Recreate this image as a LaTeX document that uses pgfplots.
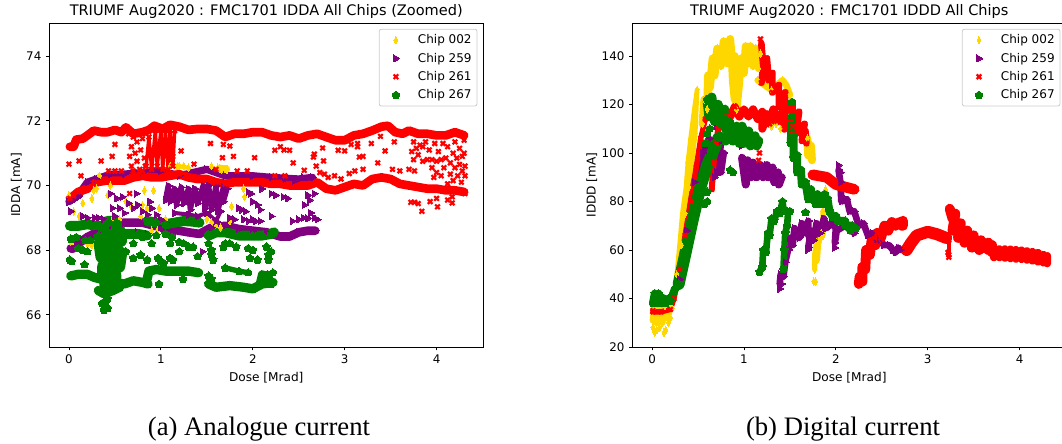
\documentclass[border=0pt]{standalone}
\usepackage{fontspec}
\setmainfont{Liberation Serif}
\newfontfamily\dejavu{DejaVu Sans}
\usepackage{pgfplots}
\pgfplotsset{compat=1.18}
\usetikzlibrary{plotmarks}
\definecolor{chipgold}{HTML}{FFD700}
\definecolor{chippurple}{HTML}{800080}
\definecolor{chipred}{HTML}{FF0000}
\definecolor{chipgreen}{HTML}{008000}
\definecolor{legframe}{HTML}{CCCCCC}

% matplotlib "X" marker
\pgfdeclareplotmark{Xfill}{%
  \pgfpathmoveto{\pgfqpoint{-.5\pgfplotmarksize}{-\pgfplotmarksize}}
  \pgfpathlineto{\pgfqpoint{0pt}{-.5\pgfplotmarksize}}
  \pgfpathlineto{\pgfqpoint{.5\pgfplotmarksize}{-\pgfplotmarksize}}
  \pgfpathlineto{\pgfqpoint{\pgfplotmarksize}{-.5\pgfplotmarksize}}
  \pgfpathlineto{\pgfqpoint{.5\pgfplotmarksize}{0pt}}
  \pgfpathlineto{\pgfqpoint{\pgfplotmarksize}{.5\pgfplotmarksize}}
  \pgfpathlineto{\pgfqpoint{.5\pgfplotmarksize}{\pgfplotmarksize}}
  \pgfpathlineto{\pgfqpoint{0pt}{.5\pgfplotmarksize}}
  \pgfpathlineto{\pgfqpoint{-.5\pgfplotmarksize}{\pgfplotmarksize}}
  \pgfpathlineto{\pgfqpoint{-\pgfplotmarksize}{.5\pgfplotmarksize}}
  \pgfpathlineto{\pgfqpoint{-.5\pgfplotmarksize}{0pt}}
  \pgfpathlineto{\pgfqpoint{-\pgfplotmarksize}{-.5\pgfplotmarksize}}
  \pgfpathclose\pgfusepathqfill}

\pgfplotsset{
  chip/.style={
    scale only axis, width=325.1pt, height=243pt, anchor=south west,
    axis line style={line width=.6pt}, tick style={line width=.6pt, black},
    tick align=outside, major tick length=2.6pt,
    font=\dejavu\fontsize{8.9}{10}\selectfont,
    /pgf/number format/assume math mode=true,
    xmin=-.212, xmax=4.505, xtick={0,1,2,3,4}, xlabel={Dose [Mrad]},
    xlabel style={yshift=.5pt, font=\dejavu\fontsize{9.1}{10}\selectfont},
    ylabel style={yshift=-3.5pt, font=\dejavu\fontsize{9.1}{10}\selectfont},
    title style={font=\dejavu\fontsize{10.9}{12}\selectfont, yshift=-6.5pt},
    ytick pos=left, xtick pos=bottom,
    legend cell align=left,
    legend style={at={(.987,.982)}, anchor=north east, draw=legframe, rounded corners=1.5pt,
      line width=.6pt, font=\dejavu\fontsize{9}{10}\selectfont, row sep=1.4pt,
      inner xsep=2pt, inner ysep=2pt},
  },
  scat/.style={only marks, legend image code/.code={
    \draw[draw=none, fill=none] (0pt,-2pt) rectangle (25pt,2pt);
    \draw[##1] plot coordinates {(10.5pt,0pt)};}},
  gold/.style={chipgold, mark=diamond*, mark size=2.8pt, mark options={solid, fill=chipgold, line width=0pt, xscale=.7}},
  purple/.style={chippurple, mark=triangle*, mark size=3pt, mark options={solid, fill=chippurple, line width=0pt, rotate=-90}},
  red/.style={chipred, mark=Xfill, mark size=2.3pt, mark options={solid, fill=chipred, line width=0pt}},
  green/.style={chipgreen, mark=pentagon*, mark size=3pt, mark options={solid, fill=chipgreen, line width=0pt}},
  band/.style={forget plot, line width=#1, line join=round, line cap=round},
  band/.default=4pt,
}

\begin{document}
\begin{tikzpicture}
\path[use as bounding box] (0,0) rectangle (796.5pt,332.25pt);

\begin{axis}[chip, at={(37.125pt,72pt)}, ymin=65, ymax=75.03, ytick={66,68,70,72,74},
    ylabel={IDDA [mA]}, title={TRIUMF Aug2020 : FMC1701 IDDA All Chips (Zoomed)},
    legend entries={Chip 002,Chip 259,Chip 261,Chip 267}]
% chip 002
\addplot[gold, scat] coordinates {(0,69.7)(.03,68.2)(.05,69.2)(.11,69.05)(.15,69.45)(.2,68.2)(.25,68.15)(.25,69.6)(.27,69.85)(.3,69.9)(.33,70.3)(.42,69.7)(.48,69)(.55,68.95)(.62,69.5)(.68,69.35)(.78,69.05)(.8,69.4)(.82,69.85)(.85,69.3)(.92,69.85)(.98,69.3)(1.05,68.95)(.9,68.6)(.96,68.6)(1.1,70.6)(1.2,70.6)(1.25,70.6)(1.3,70.55)(1.55,70.6)(1.62,70.55)(1.66,70.5)(1.7,70.5)(1.72,70.5)(1.5,68.95)(1.55,68.85)(1.6,68.75)(1.65,68.7)(1.75,68.9)(1.77,69.35)(1.9,69.9)(1.91,69.65)(.45,70)};
\addplot[gold, band=6pt] coordinates {(1.64,70.52)(1.71,70.5)};
\addplot[gold, band=3pt] coordinates {(1.18,70.6)(1.3,70.55)};
% chip 259
\addplot[purple, scat] coordinates {(.02,69.2)(.05,69.55)(.1,69.65)(.15,69.05)(.2,69)(.28,69)(.32,69)(.38,68.95)(.45,69.75)(.47,69.3)(.5,69.05)(.52,69.6)(.55,69.3)(.58,69.65)(.6,69.15)(.65,69.45)(.7,69.3)(.73,69.75)(.75,69.4)(.8,69.2)(.85,69.1)(.88,69.5)(.9,69.3)(.95,69.1)(1,68.95)(1.05,68.85)(.75,68.55)(.85,68.5)(1.1,68.5)(1.15,68.55)(1.22,68.6)(1.45,67.95)(1.75,69)(1.8,68.95)(1.85,69.3)(1.88,69.25)(1.92,69.2)(1.95,69.8)(1.98,69.75)(2,69.5)(2.05,69.4)(2.08,69.25)(2,68.95)(1.9,68.95)(1.95,68.9)(2.03,68.9)(2.08,68.9)(2.2,69.05)(2.2,69.75)(2.1,69.9)(2.25,69.7)(2.33,69.65)(2.38,69.6)(2.43,68.9)(2.5,68.95)(2.55,69)(2.6,68.98)(2.63,69.15)(2.67,69)(2.7,68.95)(2.56,69.4)(2.6,69.7)(2.62,69.55)(2.67,69.75)(2.35,70.2)(2.45,70.15)(2.55,70.25)(2.65,70.25)};
\addplot[purple, band=5.5pt] coordinates {(0,69.5)(.1,69.7)(.2,70.1)(.3,70.2)(.45,70.35)(.6,70.35)(.8,70.4)(1,70.45)(1.2,70.3)(1.5,70.5)(1.7,70.3)(2,70.3)(2.2,70.25)(2.5,70.2)(2.65,70.25)};
\addplot[purple, band=6.5pt] coordinates {(.02,68.05)(.05,68.05)(.1,68.2)(.2,68.4)(.3,68.55)(.45,68.75)(.6,68.85)(.8,68.85)(1,68.7)(1.2,68.6)(1.3,68.55)(1.42,68.5)(1.55,68.7)(1.7,68.75)(1.85,68.65)(2,68.6)(2.15,68.55)(2.3,68.42)(2.4,68.42)(2.5,68.55)(2.6,68.6)(2.68,68.6)};
\addplot[purple, band=4pt] coordinates {(1.05,69.55)(1.08,70)(1.1,69.5)(1.15,69.9)(1.17,69.4)(1.22,69.95)(1.25,69.45)(1.3,69.9)(1.32,69.25)(1.37,69.9)(1.4,69.45)(1.46,70)(1.48,69.3)(1.52,70)(1.55,69.25)(1.6,70)(1.62,69.2)(1.68,69.95)(1.68,69.5)(1.72,69.9)};
\addplot[purple, band=3pt] coordinates {(1.15,69.15)(1.3,69.1)(1.4,69.05)(1.5,69.15)(1.6,68.9)(1.65,69.2)};
% chip 261
\addplot[red, scat] coordinates {(0,70.66)(.11,70.76)(.13,70.3)(.35,70.76)(.47,70.9)(.5,71.27)(.43,70.45)(.5,70.45)(.57,70.45)(.66,69.75)(1.22,71.07)(1.13,70.9)(1.36,70.66)(1.54,71.3)(1.68,71.27)(1.75,71.22)(1.67,70.86)(1.79,70.9)(2.02,70.86)(1.6,70.5)(1.83,70.45)(1.94,70.45)(2.24,71.09)(2.3,71.2)(2.34,71.1)(2.4,71.09)(2.44,70.7)(2.24,70.3)(2.35,70.3)(2.56,70.47)(2.66,70.88)(2.67,70.97)(2.69,70.6)(2.76,71.16)(2.77,70.76)(2.73,70.4)(2.78,70.35)(2.82,70.25)(2.89,70.3)(2.96,70.2)(2.93,71.09)(3,71.07)(3.05,70.37)(3.11,70.45)(3.2,70.5)(3.07,71.27)(3.14,71.3)(3.14,71.2)(3.16,70.88)(3.2,70.9)(3.29,71.3)(3.36,70.7)(3.39,71.52)(3.44,71.07)(3.54,71.35)(3.52,70.5)(3.6,70.45)(3.72,69.48)(3.76,69.48)(3.8,69.44)(3.84,69.2)(3.93,69.5)(4,69.6)(4.01,69.34)(4.12,69.55)(4.17,69.46)(4.17,69.65)(.65,71.6)(.68,71.2)(.66,70.9)(.68,70.6)(.7,71.5)(.72,71)(.74,70.75)(.74,71.35)(.77,70.5)(.78,71.1)(.8,71.45)(.82,70.85)(.83,70.6)(.7,70.45)(.8,70.45)(3.73,71.05)(3.75,70.8)(3.75,71.35)(3.78,71.15)(3.8,70.95)(3.82,71.25)(3.7,70.5)(3.76,70.45)(3.85,70.75)(3.85,71.2)(3.88,71.35)(3.9,70.8)(3.92,71.1)(3.95,70.55)(3.95,70.8)(3.97,70.25)(3.98,71.3)(4,70.4)(4,70.75)(4.02,71.05)(4.05,70.3)(4.05,70.8)(4.07,71.3)(4.08,70.55)(4.1,70.85)(4.12,71.2)(4.12,70.05)(4.15,70.35)(4.15,70.7)(4.18,71)(4.18,70.15)(4.2,70.55)(4.2,71.35)(4.22,70.85)(4.23,70.3)(4.25,71.15)(4.25,70.65)(4.27,70.1)(4.28,70.45)(4.28,70.9)(4.3,71.4)(4.3,71)(4.31,70.6)(4.31,70.3)(4.31,69.75)};
\addplot[red, band=6.5pt] coordinates {(.01,71.2)(.05,71.2)(.08,71.42)(.15,71.45)(.2,71.55)(.27,71.7)(.35,71.65)(.42,71.65)(.5,71.72)(.57,71.65)(.62,71.8)(.7,71.6)(.8,71.65)(.87,71.72)(.93,71.85)(1.02,71.75)(1.1,71.88)(1.2,71.82)(1.3,71.72)(1.4,71.75)(1.5,71.75)(1.6,71.7)(1.7,71.5)(1.8,71.6)(1.9,71.6)(2,71.65)(2.1,71.65)(2.2,71.55)(2.3,71.5)(2.4,71.55)(2.5,71.45)(2.6,71.55)(2.7,71.6)(2.8,71.5)(2.9,71.4)(3,71.4)(3.1,71.55)(3.2,71.6)(3.3,71.7)(3.4,71.82)(3.47,71.85)(3.55,71.65)(3.63,71.6)(3.7,71.7)(3.8,71.6)(3.9,71.6)(4,71.55)(4.1,71.55)(4.2,71.65)(4.3,71.55)};
\addplot[red, band=6.5pt] coordinates {(.01,69.6)(.05,69.68)(.1,69.8)(.2,69.9)(.3,70.1)(.4,70.15)(.5,70.15)(.6,70.15)(.7,70.25)(.8,70.3)(.9,70.25)(1,70.25)(1.1,70.3)(1.2,70.35)(1.3,70.25)(1.4,70.2)(1.5,70.2)(1.6,70.1)(1.7,70.05)(1.8,70.1)(1.9,70.1)(2,70.1)(2.1,70.1)(2.2,70.05)(2.3,70.05)(2.4,70)(2.5,70)(2.6,70)(2.7,70.1)(2.8,69.9)(2.9,69.85)(3,69.95)(3.1,70.05)(3.2,70)(3.3,70.2)(3.4,70.25)(3.5,70.2)(3.6,70.05)(3.7,70)(3.8,69.95)(3.9,69.9)(4,69.9)(4.1,69.85)(4.2,69.85)(4.3,69.8)};
\addplot[red, band=2.6pt] coordinates {(.84,70.6)(.87,71.5)(.9,70.5)(.94,71.7)(.96,70.6)(1,71.7)(1.02,70.5)(1.05,71.7)(1.08,70.5)(1.1,71.7)(1.13,70.6)(1.15,71.7)};
% chip 267
\addplot[green, scat] coordinates {(.02,68.35)(.08,68.4)(.1,68.05)(.15,68)(.2,67.95)(.18,68.3)(.23,68.3)(.01,67.7)(.03,67.65)(.17,67.55)(.62,67.95)(.7,67.75)(.78,67.85)(.85,67.7)(.97,67.75)(1,67.65)(1.03,67.6)(1.1,67.75)(1.13,67.7)(1.2,67.95)(1.25,68.2)(1.3,68.1)(1.35,68.1)(1.4,67.8)(1.05,68.5)(1.12,68.4)(.95,68.45)(.85,68.45)(.9,68.2)(1.1,68.2)(1.3,68.1)(.98,66.95)(1.24,67.1)(1.52,68.2)(1.55,68)(1.55,67.85)(1.57,67.7)(1.52,67.2)(1.55,67.1)(1.68,68.1)(1.7,68.2)(1.75,68.2)(1.82,68.1)(1.95,68.05)(2,68)(1.97,67.75)(2.05,67.7)(2.15,68.1)(2.17,67.85)(2.2,67.95)(2.17,67.7)(2.22,67.3)(2.16,67.25)(.7,68.2)(.8,68.4)(1.2,68.25)(.36,66.35)(.38,66.15)(.42,66.2)(.4,66.4)(.42,66.5)};
\addplot[green, band=7.5pt] coordinates {(.01,68.75)(.1,68.75)(.2,68.8)(.3,68.75)(.4,68.75)(.5,68.75)};
\addplot[green, band=7.5pt] coordinates {(.85,68.9)(.95,68.85)(1.05,68.8)(1.15,68.85)(1.25,68.9)(1.35,68.88)(1.42,68.85)};
\addplot[green, band=7.5pt] coordinates {(.32,68.45)(.45,68.45)(.6,68.5)(.75,68.5)(.85,68.45)};
\addplot[green, band=7.5pt] coordinates {(1.52,68.45)(1.6,68.55)(1.7,68.55)(1.85,68.45)(2,68.45)(2.1,68.45)(2.2,68.5)(2.23,68.55)};
\addplot[green, band=7pt] coordinates {(.02,67.2)(.1,67.25)(.2,67.25)(.28,67.15)(.35,67.1)};
\addplot[green, band=7pt] coordinates {(.32,66.75)(.38,66.65)(.48,66.75)(.55,66.85)};
\addplot[green, band=7pt] coordinates {(.52,67)(.6,66.95)(.7,67.05)(.8,67)(.86,66.95)};
\addplot[green, band=7pt] coordinates {(.85,67.1)(.87,67.35)(.95,67.4)(1.05,67.35)(1.2,67.35)(1.3,67.35)(1.41,67.3)};
\addplot[green, band=7pt] coordinates {(1.52,66.95)(1.6,66.85)(1.75,66.9)(1.9,66.85)(2,66.8)(2.1,66.95)(2.22,67)};
\addplot[green, band=4pt] coordinates {(1.7,67.45)(1.85,67.35)(1.95,67.3)};
\addplot[green, band=6pt] coordinates {(2.08,67)(2.1,67.25)(2.17,67.2)(2.2,66.95)};
\addplot[green, band=10pt] coordinates {(.34,68.4)(.42,68.85)(.52,68.85)(.56,68.3)(.34,68.2)(.36,67.8)(.56,67.9)(.54,67.5)(.38,67.5)(.38,67.2)(.5,67.2)(.4,66.95)(.47,66.9)};
\end{axis}

\begin{axis}[chip, at={(474.4pt,72pt)}, ymin=20, ymax=153.6, ytick={20,40,60,80,100,120,140},
    ylabel={IDDD [mA]}, title={TRIUMF Aug2020 : FMC1701 IDDD All Chips},
    legend entries={Chip 002,Chip 259,Chip 261,Chip 267}]
% chip 002
\addplot[gold, scat] coordinates {(.01,28)(.03,26)(.05,27)(.08,28)(.13,26)(.15,27)(.18,30)(.2,32)(.22,36)(1.3,111)(1.35,112)(1.4,110)(1.76,47)(1.78,47)(1.89,85)};
\addplot[gold, band=5pt] coordinates {(.01,31)(.03,37)(.05,30)(.08,37)(.11,30)(.14,37)(.17,32)(.2,37)};
\addplot[gold, band=3.5pt] coordinates {(.27,50)(.3,62)(.33,75)(.37,86)(.39,96)(.42,106)(.45,115)(.49,126)(.47,108)(.44,98)(.4,86)(.36,75)(.32,62)};
\addplot[gold, band=6pt] coordinates {(.55,112)(.57,122)(.6,118)(.61,132)(.63,127)(.66,139)(.68,132)(.71,143)(.75,136)(.78,146)(.82,137)(.85,147)(.87,138)(.88,130)(.9,122)(.9,140)};
\addplot[gold, band=6pt] coordinates {(.92,118)(.95,130)(.97,139)(1,133)(1.02,144)(1.05,137)(1.07,144)(1.1,136)(1.13,143)(1.16,135)(1.18,141)};
\addplot[gold, band=5pt] coordinates {(1.15,130)(1.3,126)(1.42,130)(1.46,128)(1.5,124)};
\addplot[gold, band=6pt] coordinates {(1.69,106)(1.7,99)(1.73,103)(1.74,97)};
\addplot[gold, band=4pt] coordinates {(1.77,52)(1.77,58)(1.79,63)(1.8,56)(1.81,62)(1.84,67)(1.86,66)(1.86,76)};
% chip 259
\addplot[purple, scat] coordinates {(.7,111)(.68,90)(.72,92)(1.39,44)(1.41,46)(1.69,60)(1.99,61)(2.03,95)(2.05,92)(.97,103)};
\addplot[purple, band=5pt] coordinates {(.3,48)(.38,68)(.46,88)(.55,100)(.62,106)};
\addplot[purple, band=5pt] coordinates {(.7,92)(.75,105)(.73,95)(.78,100)(.75,92)};
\addplot[purple, band=6pt] coordinates {(.98,98)(1.02,87)(1.04,97)(1.08,90)(1.1,96)(1.14,90)(1.18,95)(1.21,90)(1.25,95)(1.27,90)(1.31,94)(1.33,88)(1.37,92)(1.38,87)(1.41,90)};
\addplot[purple, band=5pt] coordinates {(1.39,46)(1.4,50)(1.43,49)(1.45,55)(1.48,60)(1.5,65)(1.53,62)(1.55,69)(1.6,65)(1.63,71)(1.66,67)(1.7,72)(1.7,66)};
\addplot[purple, band=5pt] coordinates {(1.7,61)(1.73,68)(1.76,64)(1.79,71)(1.83,67)(1.87,73)(1.9,69)(1.95,71)(2,69)(1.99,63)(2.01,68)(2.1,70)(2.2,67)};
\addplot[purple, band=5pt] coordinates {(2.03,93)(2.05,88)(2.06,80)(2.12,81)(2.15,76)(2.2,76)(2.25,70)(2.3,71)(2.35,66)(2.4,67)(2.43,63)(2.48,65)(2.52,62)(2.58,62)(2.62,60)(2.65,59)(2.68,61)(2.7,60)};
% chip 261
\addplot[red, scat] coordinates {(.01,35)(3.23,57)(3.22,59)(1.16,97)(1.17,100)(1.18,147)(1.19,144)};
\addplot[red, band=4pt] coordinates {(.01,34.5)(.1,34.5)(.2,35.5)(.24,40)(.3,52)(.36,66)(.42,80)(.48,94)(.53,106)(.58,114)};
\addplot[red, band=4.5pt] coordinates {(.65,85)(.67,96)(.7,104)(.72,110)};
\addplot[red, band=6pt] coordinates {(.8,117)(.85,115)(.9,119)(.95,115)(1,118)(1.05,115)(1.1,118)(1.15,114)(1.2,117)(1.2,110)(1.25,116)(1.28,112)(1.32,118)(1.36,113)(1.42,117)(1.44,110)(1.5,114)(1.52,108)};
\addplot[red, band=5pt] coordinates {(1.19,145)(1.21,136)(1.19,129)(1.25,139)(1.27,130)(1.31,133)(1.31,125)(1.38,128)(1.38,119)(1.45,125)(1.44,116)(1.53,121)(1.53,111)(1.6,117)(1.57,108)(1.66,112)(1.63,105)(1.67,109)(1.68,104)};
\addplot[red, band=8pt] coordinates {(1.75,91)(1.9,90)(2,87)(2.2,85)};
\addplot[red, band=7.5pt] coordinates {(2.25,46)(2.26,49)(2.29,47)(2.29,53)(2.32,52)(2.33,60)(2.37,58)(2.39,64)(2.43,62)(2.45,67)(2.49,65)(2.53,70)(2.57,68)(2.61,71.5)(2.65,70)(2.69,71.5)(2.72,70)(2.73,72)(2.73,70)};
\addplot[red, band=9pt] coordinates {(2.77,60)(2.82,63)(2.88,66)(3,67.5)(3.1,66.5)(3.2,65)};
\addplot[red, band=7.5pt] coordinates {(3.24,77)(3.27,73)(3.3,75)(3.27,68)(3.36,71)(3.33,65)(3.43,68)(3.4,63)(3.5,66)(3.48,61)(3.58,64)(3.56,60)(3.66,63)(3.66,60)(3.7,62)(3.7,59)};
\addplot[red, band=3pt] coordinates {(3.23,64)(3.23,58)};
\addplot[red, band=6pt] coordinates {(3.72,60.5)(3.72,57)(3.78,60.3)(3.78,57)(3.84,60.3)(3.84,56.8)(3.9,60.2)(3.9,56.6)(3.96,60)(3.96,56.4)(4.02,59.8)(4.02,56.3)(4.08,59.5)(4.08,56)(4.14,59.2)(4.14,55.6)(4.2,58.8)(4.2,55.2)(4.26,58)(4.26,54.8)(4.3,57.5)(4.3,54.5)};
% chip 267
\addplot[green, scat] coordinates {(.6,104)(.58,104)(.6,108)(.63,110)(.57,79)(.6,80)(.6,84)(.85,93)(.88,92)(1.52,121)(1.67,75.5)};
\addplot[green, band=6pt] coordinates {(.01,38)(.03,42)(.05,38)(.07,42)(.1,38)(.13,40)(.15,38)(.18,40)(.2,39)(.25,44)};
\addplot[green, band=9pt] coordinates {(.29,46)(.36,58)(.44,72)(.52,85)(.6,95)(.68,102)(.72,106)};
\addplot[green, band=7pt] coordinates {(.6,122)(.62,115)(.65,123)(.68,113)(.72,120)(.74,112)(.79,118)(.8,110)(.84,113)(.84,107)};
\addplot[green, band=7pt] coordinates {(.74,107)(.8,105)(.84,109)(.88,105)(.92,111)(.95,104)(.98,111)(1,104)(1.05,109)(1.07,103)(1.12,107)(1.14,103)(1.16,105)};
\addplot[green, band=5pt] coordinates {(1.17,51)(1.2,53)(1.21,60)(1.24,59)(1.26,67)(1.28,66)(1.3,73)(1.33,72)(1.36,76)(1.39,75)(1.42,80)(1.43,77)};
\addplot[green, band=5pt] coordinates {(1.43,52)(1.44,60)(1.45,67)(1.47,70)(1.48,75)(1.5,76)};
\addplot[green, band=6pt] coordinates {(1.52,115)(1.51,104)(1.54,107)(1.54,98)(1.58,99)(1.58,92)(1.62,93)(1.63,87)(1.67,88)(1.7,81)(1.73,85)(1.72,81)(1.8,83)(1.78,79)(1.88,83)(1.85,79)(1.91,81)(1.93,76)(1.97,73.5)(2,74)(2.02,72)(2.1,72)(2.1,70)(2.18,70)(2.16,68)(2.22,69)};
\end{axis}

\node[font=\fontsize{20}{24}\selectfont, anchor=base] at (194.25pt,6pt) {(a) Analogue current};
\node[font=\fontsize{20}{24}\selectfont, anchor=base] at (632.25pt,6pt) {(b) Digital current};
\end{tikzpicture}
\end{document}
